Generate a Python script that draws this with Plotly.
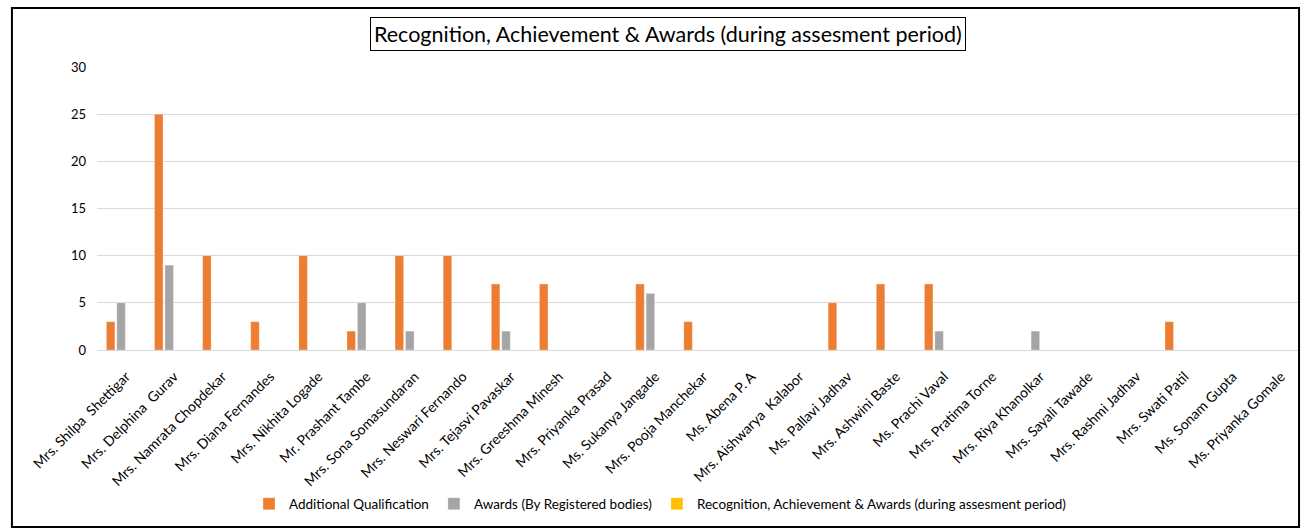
import plotly.graph_objects as go

nombres = [
    "Mrs. Shilpa  Shettigar", "Mrs. Delphina  Gurav", "Mrs. Namrata Chopdekar",
    "Mrs. Diana Fernandes", "Mrs. Nikhita Logade", "Mr. Prashant Tambe",
    "Mrs. Sona Somasundaran", "Mrs. Neswari Fernando", "Mrs. Tejasvi Pavaskar",
    "Mrs. Greeshma Minesh", "Mrs. Priyanka Prasad", "Ms. Sukanya Jangade",
    "Mrs. Pooja Manchekar", "Ms. Abena P. A", "Mrs. Aishwarya  Kalabor",
    "Ms. Pallavi Jadhav", "Mrs. Ashwini Baste", "Ms. Prachi Vaval",
    "Mrs. Pratima Torne", "Mrs. Riya Khanolkar", "Mrs. Sayali Tawade",
    "Mrs. Rashmi Jadhav", "Mrs. Swati Patil", "Ms. Sonam Gupta",
    "Ms. Priyanka Gomale",
]

calificacion = [3, 25, 10, 3, 10, 2, 10, 10, 7, 7, 0, 7, 3, 0, 0, 5, 7, 7, 0, 0, 0, 0, 3, 0, 0]
premios = [5, 9, 0, 0, 0, 5, 2, 0, 2, 0, 0, 6, 0, 0, 0, 0, 0, 2, 0, 2, 0, 0, 0, 0, 0]
reconocimiento = [0] * len(nombres)

series = [
    ("Additional Qualification", calificacion, "#ED7D31"),
    ("Awards (By Registered bodies)", premios, "#A5A5A5"),
    ("Recognition, Achievement & Awards (during assesment period)", reconocimiento, "#FFC000"),
]

fuente = "Lato, Open Sans, sans-serif"

fig = go.Figure()

for nombre, valores, color in series:
    fig.add_trace(
        go.Bar(
            name=nombre,
            x=nombres,
            y=valores,
            marker_color=color,
            marker_line=dict(color="rgba(255,255,255,0.6)", width=0.5)
        )
    )

fig.update_layout(
    barmode="group",
    bargap=0.35,
    bargroupgap=0.18,
    plot_bgcolor="white",
    paper_bgcolor="white",
    width=1301,
    height=529,
    font=dict(family=fuente, color="#000000", size=13),
    margin=dict(l=97, r=1, t=67, b=179),
    xaxis=dict(
        showgrid=False,
        tickangle=-45,
        tickfont=dict(size=14),
        showline=True,
        linecolor="#D9D9D9",
        ticks="",
        ticklabelshift=5,
        ticklabelstandoff=12
    ),
    yaxis=dict(
        range=[0, 30],
        dtick=5,
        showgrid=True,
        gridcolor="#D9D9D9",
        zeroline=False,
        tickfont=dict(size=13),
        ticklabelstandoff=10
    ),
    legend=dict(
        orientation="h",
        x=0.468,
        xanchor="center",
        y=-0.544,
        yanchor="middle",
        font=dict(size=13.5),
        itemwidth=30,
        traceorder="normal"
    ),
    annotations=[
        dict(
            text="Recognition, Achievement & Awards (during assesment period)",
            x=0.4746,
            y=1.1166,
            xref="paper",
            yref="paper",
            xanchor="center",
            yanchor="middle",
            showarrow=False,
            font=dict(size=21.5, family=fuente),
            bordercolor="#000000",
            borderwidth=1,
            borderpad=3,
            bgcolor="white"
        )
    ],
    shapes=[
        dict(
            type="rect",
            xref="paper",
            yref="paper",
            x0=-0.0707,
            x1=0.9992,
            y0=-0.625,
            y1=1.2085,
            line=dict(color="#000000", width=2)
        )
    ]
)

fig.write_html(
    "out.html",
    config={"displayModeBar": False},
    post_script="document.body.style.margin='0';"
)
